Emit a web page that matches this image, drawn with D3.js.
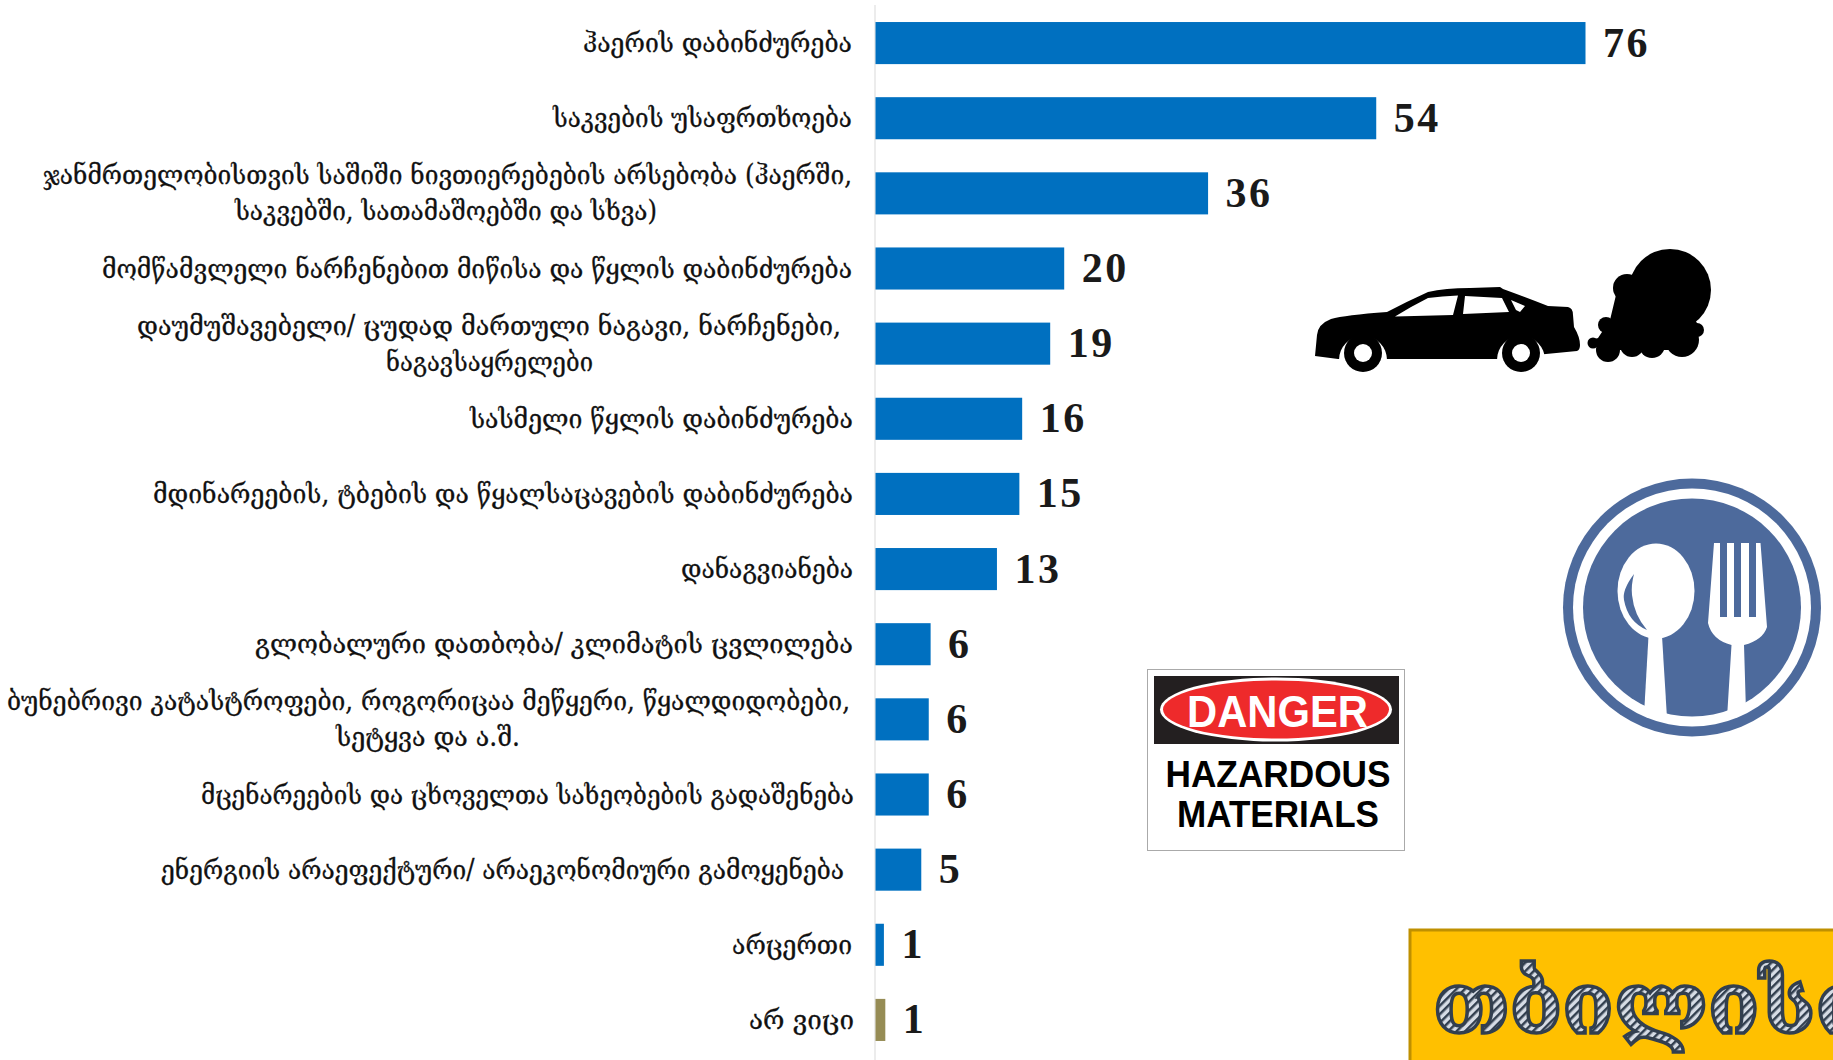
<!DOCTYPE html>
<html><head><meta charset="utf-8">
<script src="https://cdn.jsdelivr.net/npm/d3@7"></script>
<style>html,body{margin:0;background:#fff;overflow:hidden}svg{display:block}</style></head>
<body><svg id="c" width="1833" height="1060"></svg>
<script>
const categories=[
["ჰაერის დაბინძურება"],
["საკვების უსაფრთხოება"],
["ჯანმრთელობისთვის საშიში ნივთიერებების არსებობა (ჰაერში,","საკვებში, სათამაშოებში და სხვა)"],
["მომწამვლელი ნარჩენებით მიწისა და წყლის დაბინძურება"],
["დაუმუშავებელი/ ცუდად მართული ნაგავი, ნარჩენები,","ნაგავსაყრელები"],
["სასმელი წყლის დაბინძურება"],
["მდინარეების, ტბების და წყალსაცავების დაბინძურება"],
["დანაგვიანება"],
["გლობალური დათბობა/ კლიმატის ცვლილება"],
["ბუნებრივი კატასტროფები, როგორიცაა მეწყერი, წყალდიდობები,","სეტყვა და ა.შ."],
["მცენარეების და ცხოველთა სახეობების გადაშენება"],
["ენერგიის არაეფექტური/ არაეკონომიური გამოყენება"],
["არცერთი"],
["არ ვიცი"]];
const values=[76,53.6,35.6,20.2,18.7,15.7,15.4,13,5.9,5.7,5.7,4.9,0.9,1.05];
const barColors=["#0070c0","#0070c0","#0070c0","#0070c0","#0070c0","#0070c0","#0070c0","#0070c0","#0070c0","#0070c0","#0070c0","#0070c0","#0070c0","#968c55"];
// horizontal extent of each label line
const labelSpans=[[[583,852]],[[553,852]],[[43,852],[235,657]],[[102,852]],[[137,841],[386,593]],[[470,853]],[[153,853]],[[681,853]],[[255,853]],[[7,850],[336,520]],[[201,854]],[[161,844]],[[732,852]],[[749,854]]];
const svg=d3.select("#c");
const x=d3.scaleLinear().domain([0,76]).range([875.5,1585.5]);
const y=d3.scaleBand().domain(d3.range(values.length)).range([5.5,1057.5]).paddingInner(.44).paddingOuter(.22);
svg.append("line").attr("x1",875).attr("x2",875).attr("y1",5).attr("y2",1060).attr("stroke","#d9d9d9");
svg.selectAll("rect.b").data(values).join("rect").attr("class","b")
 .attr("x",x(0)).attr("y",(d,i)=>y(i)).attr("width",d=>x(d)-x(0)).attr("height",y.bandwidth()).attr("fill",(d,i)=>barColors[i]);
svg.selectAll("text.v").data(values).join("text").attr("class","v")
 .attr("x",d=>x(d)+17.5).attr("y",(d,i)=>y(i)+y.bandwidth()/2+13.5)
 .attr("font-family","Liberation Serif").attr("font-weight","bold").attr("font-size",42).attr("letter-spacing",2.5).attr("fill","#1a1a1a").text(d=>d3.format(".0f")(d));
const lab=svg.append("g").attr("font-family","DejaVu Serif").attr("font-size",27).attr("fill","#111").attr("stroke","#111").attr("stroke-width",.3);
categories.forEach((ls,i)=>{
 const cy=y(i)+y.bandwidth()/2;
 ls.forEach((t,j)=>{
  const [a,b]=labelSpans[i][j];
  lab.append("text").attr("x",a).attr("y",cy+9+(j-(ls.length-1)/2)*36)
   .attr("textLength",b-a).attr("lengthAdjust","spacingAndGlyphs").text(t);
 });
});
// pictures
const pic=svg.append("g");
// car and exhaust
pic.append("path").attr("fill","#000").attr("d","M1315,356L1317,335Q1318,324 1331,319Q1345,315 1387,312Q1408,301 1428,292Q1445,288 1470,288L1500,287L1503,289Q1525,297 1548,306L1568,307Q1573,308 1573,315L1574,327Q1580,337 1580,345Q1580,350 1577,351L1546,354L1497,359L1388,359L1338,359Z");
pic.append("path").attr("fill","#fff").attr("d","M1395,316.5Q1412,306 1428,298Q1442,296 1458,295.5L1453,315ZM1465,296L1502,298L1509,312L1463,314ZM1511,300L1525,306L1520,312L1516,310Z");
[1363,1521].forEach(c=>{
 pic.append("path").attr("fill","#fff").attr("d",`M${c-24},360A24,24 0 1,1 ${c+24},360Z`);
 pic.append("circle").attr("cx",c).attr("cy",353).attr("r",19).attr("fill","#000");
 pic.append("circle").attr("cx",c).attr("cy",353).attr("r",9).attr("fill","#fff");
});
const puffs=[[1670,290,41],[1627,288,14],[1608,350,12],[1652,345,13],[1682,340,17],[1593,343,5.5],[1606,325,8],[1632,345,12],[1697,330,7]];
pic.selectAll("circle.p").data(puffs).join("circle").attr("class","p").attr("cx",d=>d[0]).attr("cy",d=>d[1]).attr("r",d=>d[2]).attr("fill","#000");
pic.append("path").attr("fill","#000").attr("d","M1616,295L1610,320L1598,338L1592,340L1598,348L1610,350L1690,350L1698,325L1690,310L1650,280Z");
// plate icon
const blue="#4d6a9c";
[[129,blue],[119,"#fff"],[109,blue]].forEach(([r,f])=>pic.append("circle").attr("cx",1692).attr("cy",607.5).attr("r",r).attr("fill",f));
pic.append("ellipse").attr("cx",1656).attr("cy",591).attr("rx",38.5).attr("ry",47.5).attr("fill","#fff");
pic.append("path").attr("fill","#fff").attr("d","M1648.5,636L1644,715L1667,718L1662,636Z");
pic.append("path").attr("fill",blue).attr("d","M1634,574Q1622,590 1624,600Q1628,622 1647,630Q1634,615 1632,595Q1631,585 1634,574Z");
pic.append("path").attr("fill","#fff").attr("d","M1714,543L1708,623Q1712,640 1731.5,645L1727,718L1746,712L1744,645Q1763,640 1767,627L1760.5,543Z");
[1720,1734,1749].forEach(g=>pic.append("rect").attr("x",g).attr("y",543).attr("width",7).attr("height",74).attr("fill",blue));
// danger sign
pic.append("rect").attr("x",1147.5).attr("y",669.5).attr("width",257).attr("height",181).attr("fill","#fff").attr("stroke","#aaa");
pic.append("rect").attr("x",1154).attr("y",676).attr("width",245).attr("height",68).attr("fill","#231f20");
pic.append("ellipse").attr("cx",1276).attr("cy",709.5).attr("rx",116).attr("ry",32).attr("fill","#fff");
pic.append("ellipse").attr("cx",1276).attr("cy",709.5).attr("rx",113).attr("ry",29).attr("fill","#ee2a2b");
[["DANGER",1187,727,45,181,"#fff"],["HAZARDOUS",1165.5,786.5,36,225,"#000"],["MATERIALS",1177,826.5,36,202,"#000"]].forEach(([t,tx,ty,s,w,f])=>
 pic.append("text").attr("x",tx).attr("y",ty).attr("font-family","Liberation Sans").attr("font-weight","bold").attr("font-size",s).attr("textLength",w).attr("lengthAdjust","spacingAndGlyphs").attr("fill",f).text(t));
// banner
const defs=svg.append("defs");
const pat=defs.append("pattern").attr("id","hatch").attr("width",6).attr("height",6).attr("patternUnits","userSpaceOnUse").attr("patternTransform","rotate(45)");
pat.append("rect").attr("width",6).attr("height",6).attr("fill","#d6dce5");
pat.append("rect").attr("width",2.5).attr("height",6).attr("fill","#323f4f");
pic.append("rect").attr("x",1410).attr("y",930).attr("width",440).attr("height",150).attr("fill","#ffc000").attr("stroke","#bf9000").attr("stroke-width",3);
pic.append("text").attr("x",1433).attr("y",1033).attr("font-family","DejaVu Serif").attr("font-weight","bold").attr("font-size",84)
 .attr("textLength",434).attr("lengthAdjust","spacingAndGlyphs").attr("fill","url(#hatch)").attr("stroke","#323f4f").attr("stroke-width",3.5).text("თბილისი");
</script></body></html>
